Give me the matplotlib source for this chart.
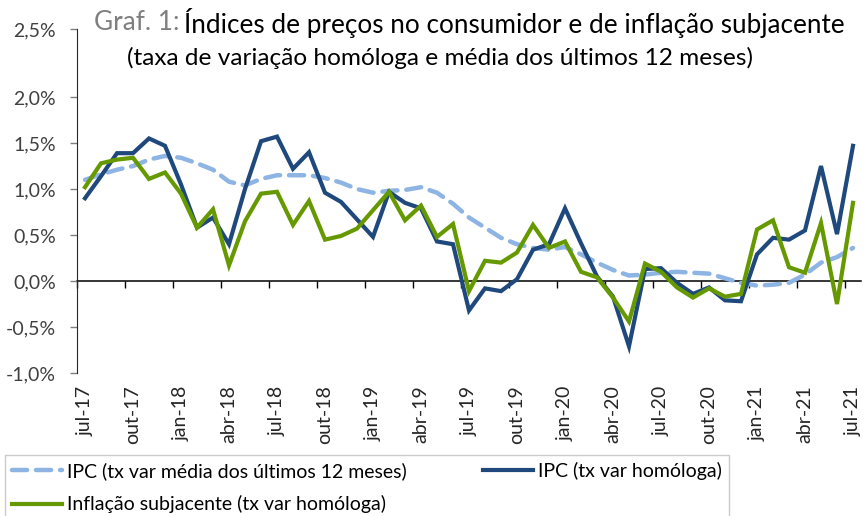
import numpy as np
import matplotlib
matplotlib.use("Agg")
import matplotlib.pyplot as plt

plt.rcParams['font.family'] = ['Lato', 'DejaVu Sans']

# monthly data jul-17 .. jul-21 (%)
ipc_media_12m = [1.10, 1.16, 1.21, 1.25, 1.32, 1.36, 1.34, 1.28, 1.21, 1.08,
                 1.04, 1.11, 1.15, 1.15, 1.15, 1.12, 1.07, 1.00, 0.96, 0.98,
                 0.99, 1.02, 0.96, 0.84, 0.69, 0.58, 0.47, 0.40, 0.36, 0.34,
                 0.37, 0.29, 0.20, 0.12, 0.06, 0.07, 0.09, 0.10, 0.09, 0.08,
                 0.03, -0.02, -0.05, -0.04, -0.02, 0.07, 0.20, 0.26, 0.36]
ipc_homologa = [0.90, 1.14, 1.39, 1.39, 1.55, 1.47, 1.05, 0.58, 0.69, 0.40,
                1.00, 1.52, 1.57, 1.22, 1.40, 0.96, 0.86, 0.67, 0.48, 0.97,
                0.85, 0.79, 0.43, 0.40, -0.32, -0.08, -0.11, 0.02, 0.34, 0.40,
                0.79, 0.41, 0.05, -0.17, -0.71, 0.13, 0.14, -0.02, -0.14, -0.07,
                -0.21, -0.22, 0.29, 0.47, 0.45, 0.55, 1.25, 0.51, 1.47]
subjacente = [1.02, 1.28, 1.32, 1.34, 1.11, 1.18, 0.95, 0.58, 0.78, 0.17,
              0.65, 0.95, 0.97, 0.61, 0.87, 0.45, 0.49, 0.57, 0.77, 0.97,
              0.66, 0.82, 0.48, 0.62, -0.11, 0.22, 0.20, 0.31, 0.61, 0.36,
              0.43, 0.10, 0.04, -0.18, -0.44, 0.19, 0.10, -0.07, -0.18, -0.08,
              -0.17, -0.14, 0.56, 0.66, 0.15, 0.09, 0.63, -0.25, 0.85]
x_labels = ['jul-17', 'out-17', 'jan-18', 'abr-18', 'jul-18', 'out-18',
            'jan-19', 'abr-19', 'jul-19', 'out-19', 'jan-20', 'abr-20',
            'jul-20', 'out-20', 'jan-21', 'abr-21', 'jul-21']
y_labels = ['-1,0%', '-0,5%', '0,0%', '0,5%', '1,0%', '1,5%', '2,0%', '2,5%']

n = len(ipc_homologa)
x = np.arange(n)
y_min, y_top = -1.0, 2.74

fig = plt.figure(figsize=(8.67, 5.16), dpi=100)
ax = fig.add_axes([77 / 867, 143 / 516, 784 / 867, 344 / 516])

ax.plot(x, ipc_media_12m, color='#8db4e2', lw=3.2, ls=(0, (3.4, 2.0)),
        dash_capstyle='round', label='IPC (tx var média dos últimos 12 meses)')
ax.plot(x, ipc_homologa, color='#1f497d', lw=3.0, solid_joinstyle='miter',
        label='IPC (tx var homóloga)')
ax.plot(x, subjacente, color='#669900', lw=3.0, solid_joinstyle='miter',
        label='Inflação subjacente (tx var homóloga)')

ax.set_xlim(-0.5, n - 0.5)
ax.set_ylim(y_min, y_top)

# y axis: ticks every 0.5, top of axis carries the 2,5% label
yt = list(np.arange(-1.0, 2.01, 0.5)) + [y_top]
ax.set_yticks(yt)
ax.set_yticklabels(y_labels, fontsize=14, color='#404040')
ax.tick_params(axis='y', direction='out', length=5, width=1, color='#808080', pad=10)

# x labels at the bottom, no tick marks
ax.set_xticks(x[::3])
ax.set_xticklabels(x_labels, rotation=90, fontsize=14, color='#262626')
ax.tick_params(axis='x', length=0, pad=9)

for s in ['top', 'right', 'bottom']:
    ax.spines[s].set_visible(False)
ax.spines['left'].set_color('#262626')

# horizontal axis line at zero with tick marks between categories
zero_pos = (0 - y_min) / (y_top - y_min)
sec = ax.secondary_xaxis(zero_pos)
sec.set_xticks(np.arange(-0.5, n, 3))
sec.tick_params(axis='x', direction='out', length=5, width=1, color='black')
sec.spines['bottom'].set_color('black')
sec.spines['bottom'].set_linewidth(1.1)
sec.xaxis.set_ticks_position('bottom')
sec.set_xticklabels([])

# title
fig.text(180 / 867, 1 - 23 / 516, 'Graf. 1:', ha='right', va='center', fontsize=18.8, color='#7f7f7f')
fig.text(184 / 867, 1 - 23 / 516, 'Índices de preços no consumidor e de inflação subjacente',
         ha='left', va='center', fontsize=18.8, color='black')
fig.text(440 / 867, 1 - 58 / 516, '(taxa de variação homóloga e média dos últimos 12 meses)',
         ha='center', va='center', fontsize=17.6, color='black')

handles, labels = ax.get_legend_handles_labels()
order = [0, 2, 1]
leg = fig.legend([handles[i] for i in order], [labels[i] for i in order],
                 ncol=2, loc='upper left', bbox_to_anchor=(5 / 867, 1 - 455 / 516),
                 fontsize=14, frameon=True, fancybox=False, edgecolor='#bfbfbf',
                 handlelength=2.6, handletextpad=0.25, columnspacing=3.9,
                 borderaxespad=0, labelspacing=0.8, borderpad=0.35)
leg.get_frame().set_linewidth(1.0)

fig.savefig('out.png', dpi=100)
